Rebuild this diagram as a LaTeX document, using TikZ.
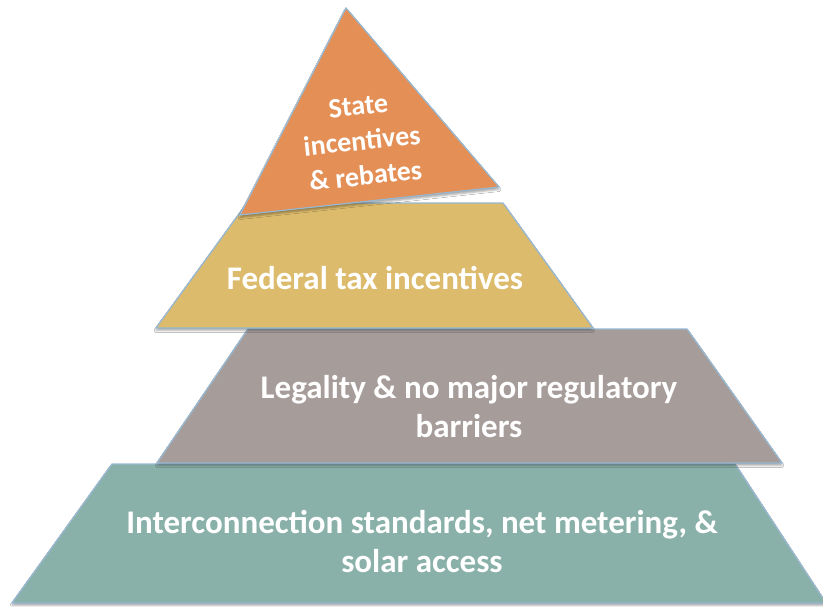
\documentclass[tikz,border=0pt]{standalone}
\usepackage{fontspec}
\setmainfont{Carlito}
\usetikzlibrary{shadows.blur}
\definecolor{tealc}{RGB}{138,177,169}
\definecolor{grayc}{RGB}{166,157,155}
\definecolor{goldc}{RGB}{221,187,108}
\definecolor{orangec}{RGB}{228,143,86}
\definecolor{edgec}{RGB}{150,184,210}
\tikzset{
  tier/.style={draw=edgec, line width=1.2pt, line join=miter,
    blur shadow={shadow xshift=0pt, shadow yshift=-2.5pt, shadow blur radius=2pt, shadow opacity=35}},
  tiertext/.style={text=white, font=\bfseries\fontsize{33}{39}\selectfont, align=center, inner sep=0pt}
}
\begin{document}
\begin{tikzpicture}[x=1pt,y=-1pt]
\useasboundingbox[fill=white] (0,0) rectangle (823,606);
\fill[tier, fill=tealc] (112,464) -- (735,464) -- (826,603) -- (12,603) -- cycle;
\fill[tier, fill=grayc] (248,329) -- (687,329) -- (782,463) -- (157,463) -- cycle;
\fill[tier, fill=goldc] (247,203) -- (503,203) -- (593,328) -- (156,328) -- cycle;
\fill[tier, fill=orangec] (346,8) -- (499,187) -- (240,215) -- cycle;
\node[tiertext] (base) at (422,542) {Interconnection standards, net metering, \&\\solar access};
\node[tiertext] (legal) at (469,407) {Legality \& no major regulatory\\barriers};
\node[tiertext] (fed) at (375,278) {Federal tax incentives};
\node[tiertext, font=\bfseries\fontsize{28}{35}\selectfont, rotate=6] (state) at (362,141) {State\\incentives\\\& rebates};
\end{tikzpicture}
\end{document}
